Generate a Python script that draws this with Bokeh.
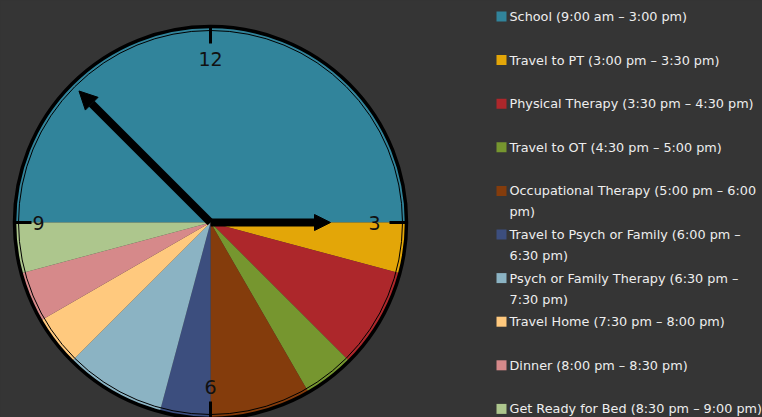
import math
from bokeh.plotting import figure
from bokeh.models import Range1d, ColumnDataSource, Arrow, NormalHead
from bokeh.core.properties import value
from bokeh.embed import file_html
from bokeh.resources import INLINE

# ---- data ----
activities = [
    "School (9:00 am \u2013 3:00 pm)",
    "Travel to PT (3:00 pm \u2013 3:30 pm)",
    "Physical Therapy (3:30 pm \u2013 4:30 pm)",
    "Travel to OT (4:30 pm \u2013 5:00 pm)",
    "Occupational Therapy (5:00 pm \u2013 6:00\npm)",
    "Travel to Psych or Family (6:00 pm \u2013\n6:30 pm)",
    "Psych or Family Therapy (6:30 pm \u2013\n7:30 pm)",
    "Travel Home (7:30 pm \u2013 8:00 pm)",
    "Dinner (8:00 pm \u2013 8:30 pm)",
    "Get Ready for Bed (8:30 pm \u2013 9:00 pm)",
]
hours = [6, 0.5, 1, 0.5, 1, 0.5, 1, 0.5, 0.5, 0.5]
colors = ["#31849B", "#E3A608", "#AD272B", "#76962F", "#843C0C",
          "#3C4E7E", "#8BB3C3", "#FFC97E", "#D6898A", "#ADC68D"]
pie_start = 9          # dial position where the first slice begins
dial_labels = ["12", "3", "6", "9"]
dial_positions = [12, 3, 6, 9]
hour_hand = 3          # dial position of hour hand
minute_hand = 10.5     # dial position of minute hand

# ---- layout ----
W, H = 762, 417
BG = "#353535"
cx, cy, R = 210, 417 - 222, 196

def dial_angle(pos):
    return math.pi / 2 - 2 * math.pi * pos / 12.0

p = figure(width=W, height=H, output_backend="svg", toolbar_location=None,
           x_range=Range1d(0, W), y_range=Range1d(0, H),
           min_border=0, background_fill_color=BG, border_fill_color=BG)
p.axis.visible = False
p.grid.visible = False
p.outline_line_color = None

# slices
starts, ends = [], []
cum = pie_start
for h in hours:
    starts.append(dial_angle(cum))
    cum += h
    ends.append(dial_angle(cum))
src = ColumnDataSource(dict(start=starts, end=ends, color=colors))
p.wedge(x=cx, y=cy, radius=R, start_angle="start", end_angle="end",
        direction="clock", fill_color="color", line_color=None, source=src)

# rim
p.circle(x=cx, y=cy, radius=R, fill_color=None, line_color="black", line_width=3.5)
p.circle(x=cx, y=cy, radius=R - 4, fill_color=None, line_color="black", line_width=1)

# ticks and numbers
label_r = [164, 164, 164, 172]
tx0, ty0, tx1, ty1, nx, ny = [], [], [], [], [], []
for pos, lr in zip(dial_positions, label_r):
    a = dial_angle(pos)
    tx0.append(cx + 179 * math.cos(a)); ty0.append(cy + 179 * math.sin(a))
    tx1.append(cx + R * math.cos(a)); ty1.append(cy + R * math.sin(a))
    nx.append(cx + lr * math.cos(a)); ny.append(cy + lr * math.sin(a))
p.segment(x0=tx0, y0=ty0, x1=tx1, y1=ty1, line_color="black", line_width=3)
p.text(x=nx, y=ny, text=dial_labels, text_font=value("DejaVu Sans"),
       text_font_size="19px", text_color="#111111",
       text_align="center", text_baseline="middle")

# hands
for pos, length, lw, hs in [(minute_hand, 186, 8, 18), (hour_hand, 120, 8, 16)]:
    a = dial_angle(pos)
    p.add_layout(Arrow(x_start=cx, y_start=cy,
                       x_end=cx + length * math.cos(a), y_end=cy + length * math.sin(a),
                       line_color="black", line_width=lw,
                       end=NormalHead(size=hs, fill_color="black", line_color="black")))

# legend
lx, ly, lt = [], [], []
sq_x, sq_y = [], []
for i, lab in enumerate(activities):
    y_img = 16 + i * 43.6
    sq_x.append(501); sq_y.append(H - y_img)
    for k, line in enumerate(lab.split("\n")):
        lx.append(509); ly.append(H - y_img - 21 * k); lt.append(line)
p.scatter(x=sq_x, y=sq_y, marker="square", size=10, fill_color=colors, line_color=None)
p.text(x=lx, y=ly, text=lt, text_font=value("DejaVu Sans"), text_font_size="12.8px",
       text_color="#eeeeee", text_align="left", text_baseline="middle")

html = file_html(p, INLINE)
html = html.replace("<body>", '<body style="background-color:%s;">' % BG)
open("out.html", "w").write(html)
